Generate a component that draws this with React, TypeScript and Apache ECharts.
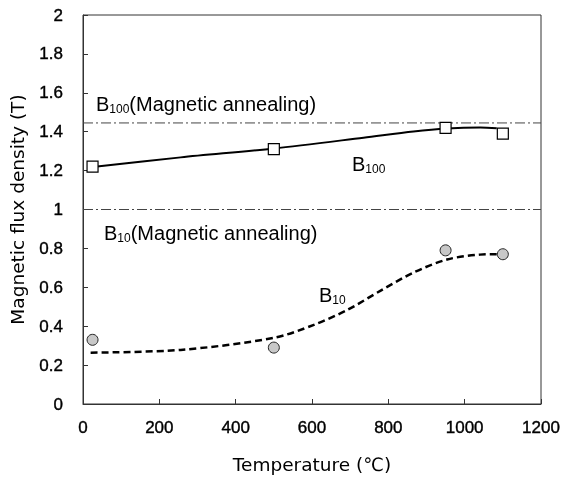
import React, { useEffect, useRef } from "react";
import * as echarts from "echarts";

const b100Temps = [25, 500, 950, 1100];
const b100Values = [1.22, 1.31, 1.42, 1.39];
const b10Temps = [25, 500, 950, 1100];
const b10Values = [0.33, 0.29, 0.79, 0.77];

const b100CurveX = [25, 256, 500, 735, 866, 953, 1041, 1084];
const b100CurveY = [1.218, 1.268, 1.314, 1.369, 1.401, 1.416, 1.421, 1.418];
const b10CurveX = [20, 256, 500, 605, 692, 780, 866, 954, 1040, 1084];
const b10CurveY = [0.264, 0.278, 0.34, 0.407, 0.483, 0.583, 0.676, 0.743, 0.768, 0.77];

const annealB100 = 1.445;
const annealB10 = 1.0;
const xRange = [0, 1200];

const FONT = "Liberation Sans";
const TITLE_FONT = "DejaVu Sans";

const zip = (xs: number[], ys: number[]) => xs.map((x, i) => [x, ys[i]]);

export default function App() {
  const ref = useRef<HTMLDivElement>(null);
  useEffect(() => {
    const chart = echarts.init(ref.current!, undefined, { renderer: "svg" });
    const rich = {
      b: { fontSize: 20, lineHeight: 22, fontFamily: FONT, color: "#000" },
      s: { fontSize: 12, lineHeight: 8, verticalAlign: "bottom", fontFamily: FONT, color: "#000" },
    };
    const label = (x: number, y: number, text: string) => ({
      type: "text",
      x,
      y,
      style: { text, rich, fontFamily: FONT, verticalAlign: "middle", align: "left" },
      z: 10,
    });
    const tickText = {
      fontSize: 17,
      color: "#000",
      fontFamily: FONT,
      textBorderColor: "#000",
      textBorderWidth: 0.4,
    };
    chart.setOption({
      animation: false,
      grid: {
        left: 82,
        right: 24,
        top: 15,
        bottom: 66,
        show: true,
        borderColor: "#333",
        borderWidth: 1,
      },
      xAxis: {
        type: "value",
        min: 0,
        max: 1200,
        interval: 200,
        name: "Temperature (℃)",
        nameLocation: "middle",
        nameGap: 51,
        nameTextStyle: { fontSize: 18.5, color: "#000", fontFamily: TITLE_FONT },
        axisLine: { show: true, lineStyle: { color: "#333" } },
        axisTick: { show: true, inside: true, length: 5, lineStyle: { color: "#333" } },
        axisLabel: { ...tickText, margin: 15, formatter: (v: number) => String(v) },
        splitLine: { show: false },
      },
      yAxis: {
        type: "value",
        min: 0,
        max: 2,
        interval: 0.2,
        name: "Magnetic flux density (T)",
        nameLocation: "middle",
        nameGap: 56,
        nameTextStyle: { fontSize: 18.5, color: "#000", fontFamily: TITLE_FONT },
        axisLine: { show: true, lineStyle: { color: "#333" } },
        axisTick: { show: true, inside: true, length: 5, lineStyle: { color: "#333" } },
        axisLabel: {
          ...tickText,
          margin: 20,
          formatter: (v: number) => String(Math.round(v * 10) / 10),
        },
        splitLine: { show: false },
      },
      series: [
        {
          type: "line",
          data: zip(xRange, [annealB100, annealB100]),
          symbol: "none",
          lineStyle: { color: "#444", width: 1, type: [10, 3, 2, 3] },
          silent: true,
        },
        {
          type: "line",
          data: zip(xRange, [annealB10, annealB10]),
          symbol: "none",
          lineStyle: { color: "#444", width: 1, type: [10, 3, 2, 3] },
          silent: true,
        },
        {
          type: "line",
          data: zip(b100CurveX, b100CurveY),
          smooth: 0.3,
          symbol: "none",
          lineStyle: { color: "#000", width: 2 },
        },
        {
          type: "line",
          data: zip(b10CurveX, b10CurveY),
          smooth: 0.3,
          symbol: "none",
          lineStyle: { color: "#000", width: 2.5, type: [7, 4] },
        },
        {
          type: "scatter",
          data: zip(b100Temps, b100Values),
          symbol: "rect",
          symbolSize: 11,
          itemStyle: { color: "#fff", borderColor: "#000", borderWidth: 1.2, opacity: 1 },
          z: 5,
        },
        {
          type: "scatter",
          data: zip(b10Temps, b10Values),
          symbol: "circle",
          symbolSize: 11,
          itemStyle: { color: "#c8c8c8", borderColor: "#222", borderWidth: 1, opacity: 1 },
          z: 5,
        },
      ],
      graphic: [
        label(96, 104, "{b|B}{s|100}{b|(Magnetic annealing)}"),
        label(104, 233, "{b|B}{s|10}{b|(Magnetic annealing)}"),
        label(352, 164, "{b|B}{s|100}"),
        label(319, 295, "{b|B}{s|10}"),
      ],
    });
    return () => chart.dispose();
  }, []);
  return (
    <div
      ref={ref}
      style={{ position: "fixed", left: 0, top: 0, width: 565, height: 479 }}
    />
  );
}
